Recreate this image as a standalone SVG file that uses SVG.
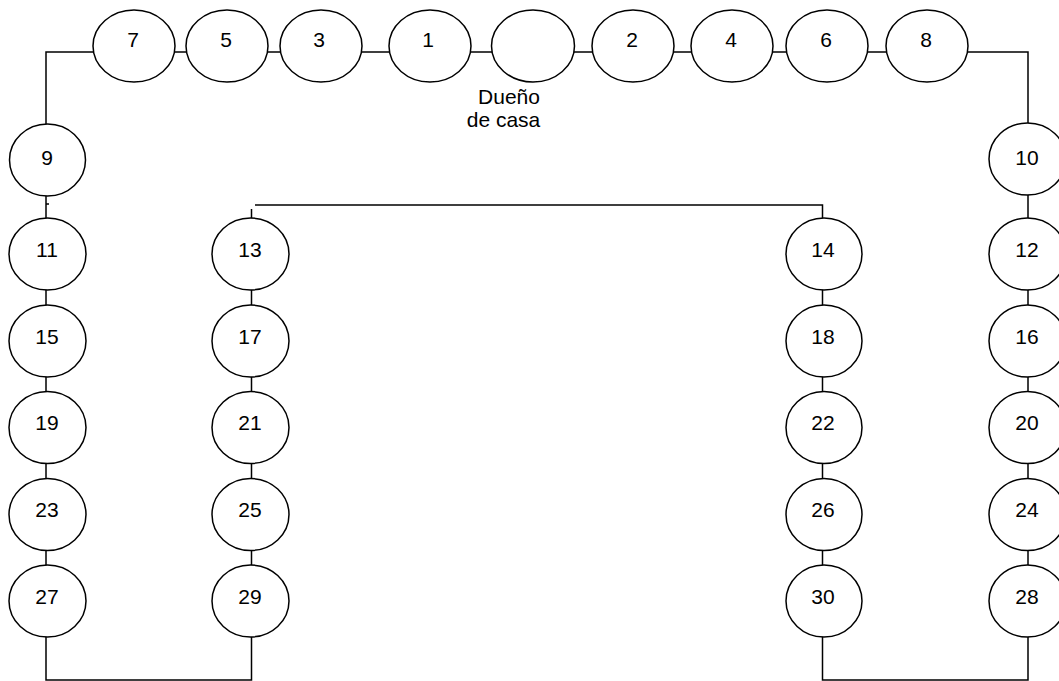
<svg xmlns="http://www.w3.org/2000/svg" width="1059" height="681" viewBox="0 0 1059 681">
<style>
.n{fill:#fff;stroke:#000;stroke-width:1.5}
.c{fill:none;stroke:#000;stroke-width:1.5}
text{font-family:"Liberation Sans",Arial,sans-serif;font-size:21px;fill:#000;text-anchor:middle}
</style>
<rect width="1059" height="681" fill="#fff"/>
<g id="connectors">
<path class="c" d="M46,124 V52 H1028 V124"/>
<path class="c" d="M46,196 V680 H251.5 V209"/>
<path class="c" d="M46,204 H49"/>
<path class="c" d="M255,205 H822.5 V680 H1028 V195"/>
</g>
<g id="n7"><ellipse class="n" cx="134" cy="46" rx="41" ry="36"/><text x="133" y="47">7</text></g>
<g id="n5"><ellipse class="n" cx="227" cy="46" rx="41" ry="36"/><text x="226" y="47">5</text></g>
<g id="n3"><ellipse class="n" cx="321" cy="46" rx="41" ry="36"/><text x="319" y="47">3</text></g>
<g id="n1"><ellipse class="n" cx="430" cy="46" rx="41" ry="36"/><text x="428" y="47">1</text></g>
<g id="owner"><ellipse class="n" cx="533" cy="46" rx="41.5" ry="36"/><text x="509" y="104">Dueño</text><text x="503.5" y="127">de casa</text></g>
<g id="n2"><ellipse class="n" cx="633" cy="46" rx="41" ry="36"/><text x="632" y="47">2</text></g>
<g id="n4"><ellipse class="n" cx="732" cy="46" rx="41" ry="36"/><text x="731" y="47">4</text></g>
<g id="n6"><ellipse class="n" cx="827" cy="46" rx="41" ry="36"/><text x="826" y="47">6</text></g>
<g id="n8"><ellipse class="n" cx="927" cy="46" rx="41" ry="36"/><text x="926" y="47">8</text></g>
<g id="n9"><ellipse class="n" cx="47.5" cy="160" rx="38" ry="36"/><text x="47" y="165">9</text></g>
<g id="n10"><ellipse class="n" cx="1027.5" cy="159" rx="38.5" ry="36"/><text x="1027" y="165">10</text></g>
<g id="n11"><ellipse class="n" cx="47.5" cy="254" rx="38.5" ry="36"/><text x="47" y="256.5">11</text></g>
<g id="n13"><ellipse class="n" cx="250.5" cy="254" rx="38.5" ry="36"/><text x="250" y="256.5">13</text></g>
<g id="n14"><ellipse class="n" cx="824" cy="254" rx="38" ry="36"/><text x="823" y="256.5">14</text></g>
<g id="n12"><ellipse class="n" cx="1027.5" cy="254" rx="38.5" ry="36"/><text x="1027" y="256.5">12</text></g>
<g id="n15"><ellipse class="n" cx="47.5" cy="341" rx="38.5" ry="36"/><text x="47" y="343.5">15</text></g>
<g id="n17"><ellipse class="n" cx="250.5" cy="341" rx="38.5" ry="36"/><text x="250" y="343.5">17</text></g>
<g id="n18"><ellipse class="n" cx="824" cy="341" rx="38" ry="36"/><text x="823" y="343.5">18</text></g>
<g id="n16"><ellipse class="n" cx="1027.5" cy="341" rx="38.5" ry="36"/><text x="1027" y="343.5">16</text></g>
<g id="n19"><ellipse class="n" cx="47.5" cy="427.5" rx="38.5" ry="36"/><text x="47" y="430">19</text></g>
<g id="n21"><ellipse class="n" cx="250.5" cy="427.5" rx="38.5" ry="36"/><text x="250" y="430">21</text></g>
<g id="n22"><ellipse class="n" cx="824" cy="427.5" rx="38" ry="36"/><text x="823" y="430">22</text></g>
<g id="n20"><ellipse class="n" cx="1027.5" cy="427.5" rx="38.5" ry="36"/><text x="1027" y="430">20</text></g>
<g id="n23"><ellipse class="n" cx="47.5" cy="514.5" rx="38.5" ry="36"/><text x="47" y="517">23</text></g>
<g id="n25"><ellipse class="n" cx="250.5" cy="514.5" rx="38.5" ry="36"/><text x="250" y="517">25</text></g>
<g id="n26"><ellipse class="n" cx="824" cy="514.5" rx="38" ry="36"/><text x="823" y="517">26</text></g>
<g id="n24"><ellipse class="n" cx="1027.5" cy="514.5" rx="38.5" ry="36"/><text x="1027" y="517">24</text></g>
<g id="n27"><ellipse class="n" cx="47.5" cy="601" rx="38.5" ry="36"/><text x="47" y="603.5">27</text></g>
<g id="n29"><ellipse class="n" cx="250.5" cy="601" rx="38.5" ry="36"/><text x="250" y="603.5">29</text></g>
<g id="n30"><ellipse class="n" cx="824" cy="601" rx="38" ry="36"/><text x="823" y="603.5">30</text></g>
<g id="n28"><ellipse class="n" cx="1027.5" cy="601" rx="38.5" ry="36"/><text x="1027" y="603.5">28</text></g>
</svg>
